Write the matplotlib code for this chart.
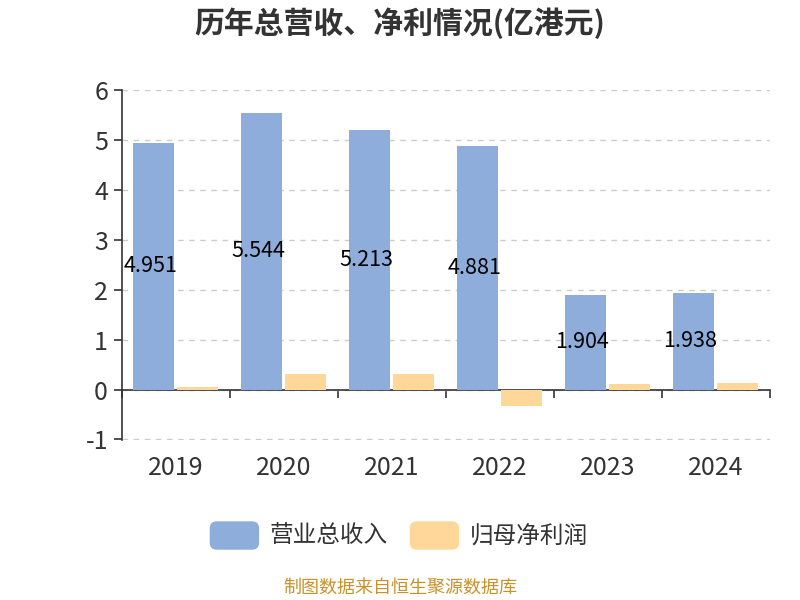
import matplotlib
matplotlib.use("Agg")
import matplotlib.pyplot as plt
from matplotlib.patches import FancyBboxPatch

plt.rcParams['font.family'] = ['Noto Sans CJK SC', 'DejaVu Sans']
plt.rcParams['axes.unicode_minus'] = False

anos = ["2019", "2020", "2021", "2022", "2023", "2024"]
receita = [4.951, 5.544, 5.213, 4.881, 1.904, 1.938]
lucro = [0.05, 0.32, 0.32, -0.32, 0.12, 0.13]

cor_receita = "#8eaddb"
cor_lucro = "#ffd899"

fig = plt.figure(figsize=(8, 6), dpi=100)
ax = fig.add_axes([0.1525, 0.2667, 0.81, 0.5833])

x = list(range(len(anos)))
larg = 0.38
ax.bar([i - 0.21 for i in x], receita, width=larg, color=cor_receita, zorder=3)
ax.bar([i + 0.2 for i in x], lucro, width=larg, color=cor_lucro, zorder=3)

for i, v in enumerate(receita):
    ax.text(i - 0.24, v / 2, f"{v:.3f}", ha="center", va="center",
            fontsize=15.5, color="#000000", zorder=4)

ax.set_xlim(-0.5, 5.5)
ax.set_ylim(-1.01, 6.01)
ax.set_yticks(range(-1, 7))
ax.set_xticks(x)
ax.set_xticklabels(anos)
ax.set_xticks([i - 0.5 for i in range(7)], minor=True)
ax.tick_params(axis="x", which="major", length=0, pad=0, labelsize=18, labelcolor="#333333")
ax.tick_params(axis="x", which="minor", length=6, width=1.2, color="#333333", direction="out")
ax.tick_params(axis="y", length=6, width=1.2, color="#333333", labelsize=18, labelcolor="#333333", pad=4)

ax.grid(axis="y", linestyle=(0, (4, 4)), color="#cccccc", linewidth=1, zorder=0)
for s in ["top", "right"]:
    ax.spines[s].set_visible(False)
ax.spines["bottom"].set_position(("data", 0))
ax.spines["bottom"].set_color("#333333")
ax.spines["bottom"].set_linewidth(1.2)
ax.spines["left"].set_color("#333333")
ax.spines["left"].set_linewidth(1.2)
# rotulos dos anos ficam abaixo da area do grafico, nao em y=0
for lbl in ax.get_xticklabels():
    lbl.set_transform(ax.get_xaxis_transform())
    lbl.set_position((lbl.get_position()[0], -0.043))

fig.text(0.5, 0.962, "历年总营收、净利情况(亿港元)", ha="center", va="center",
         fontsize=21.5, fontweight="bold", color="#333333")

# legenda
itens = [("营业总收入", cor_receita, 0.263), ("归母净利润", cor_lucro, 0.513)]
for nome, cor, xl in itens:
    fig.patches.append(FancyBboxPatch((xl, 0.085), 0.06, 0.045,
                                      boxstyle="round,pad=0,rounding_size=0.008",
                                      transform=fig.transFigure, color=cor,
                                      mutation_aspect=1.33))
    fig.text(xl + 0.074, 0.107, nome, ha="left", va="center",
             fontsize=17, color="#333333")

fig.text(0.5, 0.02, "制图数据来自恒生聚源数据库", ha="center", va="center",
         fontsize=13, color="#c8922a")

fig.savefig("out.png", dpi=100)
